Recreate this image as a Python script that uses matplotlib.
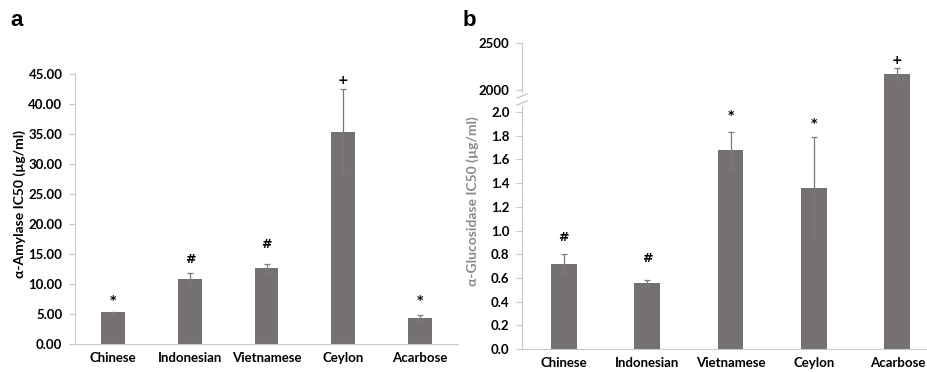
import numpy as np
import matplotlib
matplotlib.use('Agg')
import matplotlib.pyplot as plt
from matplotlib.lines import Line2D

plt.rcParams['font.family'] = ['Lato', 'DejaVu Sans']

# data
groups = ['Chinese', 'Indonesian', 'Vietnamese', 'Ceylon', 'Acarbose']
amylase = [5.3, 10.8, 12.6, 35.3, 4.4]
amylase_err = [0.1, 1.1, 0.8, 7.2, 0.4]
amylase_sig = ['*', '#', '#', '+', '*']
amylase_sig_y = [7.3, 14.1, 16.5, 44.0, 7.3]

glucosidase = [0.72, 0.56, 1.68, 1.36, 2167]
glucosidase_err = [0.08, 0.02, 0.15, 0.43, 65]
glucosidase_sig = ['#', '#', '*', '*', '+']
glucosidase_sig_y = [0.94, 0.76, 1.97, 1.90, 2318]

bar_color = '#767171'
err_color = '#7a7a7a'
spine_color = '#c8c8c8'
W, H = 928, 372


def px_axes(fig, left, top, right, bottom):
    return fig.add_axes([left / W, 1 - bottom / H, (right - left) / W, (bottom - top) / H])


def style(ax, bottom=True):
    for s in ['top', 'right']:
        ax.spines[s].set_visible(False)
    ax.spines['left'].set_color(spine_color)
    ax.spines['bottom'].set_color(spine_color)
    ax.spines['bottom'].set_visible(bottom)
    ax.tick_params(axis='y', colors=spine_color, length=4, width=0.8, labelcolor='black',
                   labelsize=9.5, pad=5)
    ax.tick_params(axis='x', length=0, labelsize=9.5, pad=6)
    for lbl in ax.get_yticklabels() + ax.get_xticklabels():
        lbl.set_fontweight('bold')


def mark(ax, xi, yy, s):
    ax.text(xi, yy, s, ha='center', va='center', fontsize=9, fontweight='bold',
            family=['DejaVu Sans'])


fig = plt.figure(figsize=(W / 100, H / 100), dpi=100)
x = np.arange(len(groups))

# panel a
ax1 = px_axes(fig, 75, 74, 458, 344)
ax1.bar(x, amylase, width=0.31, color=bar_color, zorder=2)
ax1.errorbar(x, amylase, yerr=amylase_err, fmt='none', ecolor=err_color, elinewidth=0.9,
             capsize=2.5, capthick=0.9, zorder=3)
for xi, s, yy in zip(x, amylase_sig, amylase_sig_y):
    mark(ax1, xi, yy, s)
ax1.set_xlim(-0.5, 4.5)
ax1.set_ylim(0, 45)
ax1.set_yticks(np.arange(0, 46, 5))
ax1.set_yticklabels(['%.2f' % v for v in np.arange(0, 46, 5)])
ax1.set_xticks(x)
ax1.set_xticklabels(groups)
style(ax1)
ax1.set_ylabel('α-Amylase IC50 (µg/ml)', fontsize=10, fontweight='bold')
ax1.yaxis.set_label_coords(-0.127, 0.52)
fig.text(10 / W, 1 - 20 / H, 'a', fontsize=16, fontweight='bold', va='center',
         family=['Liberation Sans', 'DejaVu Sans'])

# panel b, broken axis
ax_lo = px_axes(fig, 522, 103, 939, 349)
ax_hi = px_axes(fig, 522, 43, 939, 103)
lo_top = 2.0 + (112 - 103) / 118.5
hi_bot = 2000 - (103 - 90) / 0.094
for ax in (ax_lo, ax_hi):
    ax.bar(x, glucosidase, width=0.31, color=bar_color, zorder=2)
    ax.set_xlim(-0.5, 4.5)
ax_lo.errorbar(x[:4], glucosidase[:4], yerr=glucosidase_err[:4], fmt='none', ecolor=err_color,
               elinewidth=0.9, capsize=2.5, capthick=0.9, zorder=3)
ax_hi.errorbar(x[4:], glucosidase[4:], yerr=glucosidase_err[4:], fmt='none', ecolor=err_color,
               elinewidth=0.9, capsize=2.5, capthick=0.9, zorder=3)
for xi, s, yy in zip(x, glucosidase_sig, glucosidase_sig_y):
    mark(ax_hi if yy > 100 else ax_lo, xi, yy, s)
ax_lo.set_ylim(0, lo_top)
ax_lo.set_yticks(np.arange(0, 2.01, 0.2))
ax_lo.set_yticklabels(['%.1f' % v for v in np.arange(0, 2.01, 0.2)])
ax_lo.set_xticks(x)
ax_lo.set_xticklabels(groups)
style(ax_lo)
ax_hi.set_ylim(hi_bot, 2500)
ax_hi.set_yticks([2000, 2500])
ax_hi.set_yticklabels(['2000', '2500'])
ax_hi.set_xticks([])
style(ax_hi, bottom=False)
ax_hi.spines['left'].set_bounds(1979, 2500)
ax_lo.spines['left'].set_bounds(0, 2.0 + 6 / 118.5)
ax_lo.set_ylabel('α-Glucosidase IC50 (µg/ml)', fontsize=10, fontweight='bold',
                 color='#8a8a8a')
ax_lo.yaxis.set_label_coords(-0.104, 0.60)

# break marks
for yb in (96, 103):
    fig.add_artist(Line2D([517 / W, 527 / W], [1 - (yb + 2) / H, 1 - (yb - 2) / H],
                          color=spine_color, lw=1.0))
fig.text(463 / W, 1 - 20 / H, 'b', fontsize=16, fontweight='bold', va='center',
         family=['Liberation Sans', 'DejaVu Sans'])

fig.savefig('out.png', dpi=100)
